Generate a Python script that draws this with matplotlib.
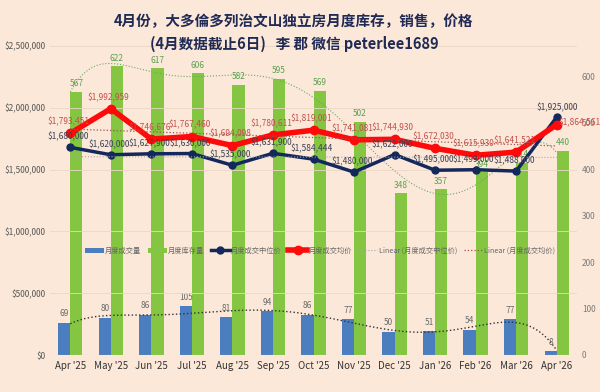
import numpy as np
import matplotlib.pyplot as plt

plt.rcParams['font.family'] = ['Noto Sans CJK SC', 'DejaVu Sans']

months = ["Apr '25", "May '25", "Jun '25", "Jul '25", "Aug '25", "Sep '25", "Oct '25",
          "Nov '25", "Dec '25", "Jan '26", "Feb '26", "Mar '26", "Apr '26"]
sales = [69, 80, 86, 105, 81, 94, 86, 77, 50, 51, 54, 77, 8]
inventory = [567, 622, 617, 606, 582, 595, 569, 502, 348, 357, 394, 414, 440]
median_price = [1680000, 1620000, 1627900, 1630000, 1535000, 1631900, 1584444,
                1480000, 1622000, 1495000, 1499000, 1488000, 1925000]
avg_price = [1793451, 1992959, 1746676, 1767460, 1694098, 1780611, 1819001,
             1741081, 1744930, 1672030, 1615930, 1641521, 1864561]

bg = '#fce8d8'
green = '#84c542'
blue = '#4a7ebf'
navy = '#13285c'
red = '#ff0a0a'

x = np.arange(len(months))
w = 0.3

fig = plt.figure(figsize=(6, 3.92), dpi=100, facecolor=bg)
ax = fig.add_axes([50 / 600, 1 - 355 / 392, 527 / 600, 309 / 392])
ax.set_facecolor(bg)
ax2 = ax.twinx()
ax.set_zorder(ax2.get_zorder() + 1)
ax.patch.set_visible(False)
ax2.patch.set_facecolor(bg)

# bars on secondary axis (counts)
b1 = ax2.bar(x - w / 2, sales, w, color=blue, label='月度成交量')
b2 = ax2.bar(x + w / 2, inventory, w, color=green, label='月度库存量')
for xi, v in zip(x, sales):
    ax2.text(xi - w / 2, v + 10, str(v), ha='center', va='bottom', fontsize=6, color='#6b6b6b')
for xi, v in zip(x, inventory):
    ax2.text(xi + w / 2, v + 7, str(v), ha='center', va='bottom', fontsize=6, color='#5aa050')

# polynomial trends over bars
xs = np.linspace(0, len(x) - 1, 200)
ps = np.polyfit(x, sales, 6)
ax2.plot(xs, np.polyval(ps, xs), ':', color='#333333', lw=1)
pi = np.polyfit(x, inventory, 6)
ax2.plot(xs, np.polyval(pi, xs), ':', color='#6aa86a', lw=0.8)

ax2.set_ylim(0, 665)
ax2.set_yticks([0, 100, 200, 300, 400, 500, 600])
ax2.tick_params(axis='y', length=0, labelsize=6, colors='#7a7a7a')

# price lines on primary axis
l1, = ax.plot(x, median_price, '-o', color=navy, lw=2.5, ms=5, label='月度成交中位价')
l2, = ax.plot(x, avg_price, '-o', color=red, lw=4, ms=6, label='月度成交均价')

pm = np.polyfit(x, median_price, 1)
t1, = ax.plot(x, np.polyval(pm, x), ':', color='#a8a8a8', lw=0.8, label='Linear (月度成交中位价)')
pa = np.polyfit(x, avg_price, 1)
t2, = ax.plot(x, np.polyval(pa, x), ':', color='#a05050', lw=0.9, label='Linear (月度成交均价)')

for i, (m, a) in enumerate(zip(median_price, avg_price)):
    if i == len(x) - 1:
        ax.text(i, m + 40000, f'${m:,.0f}', ha='center', va='bottom', fontsize=6, color='#3a4055')
        ax.text(i + 0.05, a + 20000, f'${a:,.0f}', ha='left', va='center', fontsize=6, color='#c0504d')
    else:
        ax.text(i - 0.05, m + 45000, f'${m:,.0f}', ha='center', va='bottom', fontsize=6, color='#3a4055')
        ax.text(i - 0.05, a + 55000, f'${a:,.0f}', ha='center', va='bottom', fontsize=6, color='#c0504d')

ax.set_ylim(0, 2500000)
ax.set_yticks(np.arange(0, 2500001, 500000))
ax.set_yticklabels([f'${v:,.0f}' for v in np.arange(0, 2500001, 500000)])
ax.tick_params(axis='y', length=0, labelsize=6, colors='#555555')
ax.set_xlim(-0.5, len(x) - 0.5)
ax.set_xticks(x)
ax.set_xticklabels(months, fontsize=7, color='#333333')
ax.tick_params(axis='x', length=0, pad=4)
ax2.grid(False)
ax.yaxis.grid(True, color='#ecd6c6', lw=0.6)
ax.set_axisbelow(True)
for a in (ax, ax2):
    for s in a.spines.values():
        s.set_visible(False)
ax.axhline(0, color='#d9c8bb', lw=0.8)

ax.legend(handles=[b1, b2, l1, l2, t1, t2], loc='center', bbox_to_anchor=(0.512, 0.337),
          ncol=6, frameon=False, fontsize=5.2, labelcolor='#666666',
          handlelength=2.6, columnspacing=0.9, handletextpad=0.2)

fig.text(0.49, 0.945, '4月份，大多倫多列治文山独立房月度库存，销售，价格',
         ha='center', va='center', fontsize=10.5, fontweight='bold', color='#1f2a55')
fig.text(0.49, 0.888, '(4月数据截止6日)   李 郡 微信 peterlee1689',
         ha='center', va='center', fontsize=10.5, fontweight='bold', color='#1f2a55')

fig.savefig('out.png', dpi=100, facecolor=bg)
